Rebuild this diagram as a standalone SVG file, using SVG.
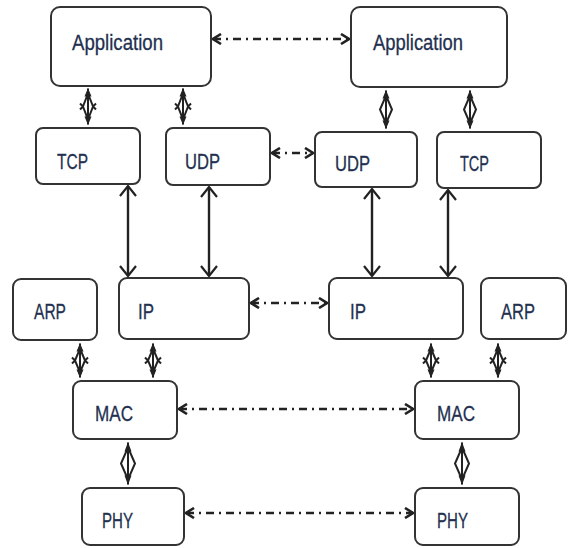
<svg xmlns="http://www.w3.org/2000/svg" width="574" height="548" viewBox="0 0 574 548">
<defs>
<style>
.box{fill:#fff;stroke:#333;stroke-width:2}
.lbl{font-family:"Liberation Sans",Arial,sans-serif;font-size:22px;fill:#23304f;stroke:#23304f;stroke-width:0.3}
.dd{fill:none;stroke:#222;stroke-width:2.5;stroke-dasharray:8 5 2 5}
.va{fill:none;stroke:#222;stroke-width:2.4}
.dm{fill:none;stroke:#222;stroke-width:2}
.dh{fill:#222;stroke:none}
</style>
<marker id="ha" viewBox="0 0 10 12" refX="9" refY="6" markerWidth="10" markerHeight="12" markerUnits="userSpaceOnUse" orient="auto-start-reverse">
<path d="M1,1 L9,6 L1,11" fill="none" stroke="#222" stroke-width="2.6"/>
</marker>
<marker id="vv" viewBox="0 0 12 18" refX="11" refY="9" markerWidth="12" markerHeight="18" markerUnits="userSpaceOnUse" orient="auto-start-reverse">
<path d="M1,1 L11,9 L1,17" fill="none" stroke="#222" stroke-width="2.2"/>
</marker>
</defs>

<g id="connectors">
<path class="dd" d="M213,39 H349" marker-start="url(#ha)" marker-end="url(#ha)"/>
<path class="dd" d="M272,153 H313" marker-start="url(#ha)" marker-end="url(#ha)"/>
<path class="dd" d="M251,303 H327" marker-start="url(#ha)" marker-end="url(#ha)"/>
<path class="dd" d="M179,409 H413" marker-start="url(#ha)" marker-end="url(#ha)"/>
<path class="dd" d="M186,513 H413" marker-start="url(#ha)" marker-end="url(#ha)"/>

<path class="va" d="M128,186 V276" marker-start="url(#vv)" marker-end="url(#vv)"/>
<path class="va" d="M209,187 V276" marker-start="url(#vv)" marker-end="url(#vv)"/>
<path class="va" d="M372,189 V276" marker-start="url(#vv)" marker-end="url(#vv)"/>
<path class="va" d="M448,190 V276" marker-start="url(#vv)" marker-end="url(#vv)"/>

<g id="dia-short">
<g transform="translate(88,106.5)"><path class="dm" d="M0,-18 V18 M0,-13 L5,0 L0,13 L-5,0 Z M-5,0 L-8,-3 M-5,0 L-8,3 M5,0 L8,-3 M5,0 L8,3"/><path class="dh" d="M0,-18.5 L-3.5,-10 L3.5,-10 Z M0,18.5 L-3.5,10 L3.5,10 Z"/></g>
<g transform="translate(183,106.5)"><path class="dm" d="M0,-18 V18 M0,-13 L5,0 L0,13 L-5,0 Z M-5,0 L-8,-3 M-5,0 L-8,3 M5,0 L8,-3 M5,0 L8,3"/><path class="dh" d="M0,-18.5 L-3.5,-10 L3.5,-10 Z M0,18.5 L-3.5,10 L3.5,10 Z"/></g>
<g transform="translate(386,109.5)"><path class="dm" d="M0,-19 V19 M0,-14 L6,0 L0,14 L-6,0 Z"/><path class="dh" d="M0,-19.5 L-3.5,-11 L3.5,-11 Z M0,19.5 L-3.5,11 L3.5,11 Z"/></g>
<g transform="translate(470,109.5)"><path class="dm" d="M0,-19 V19 M0,-14 L6,0 L0,14 L-6,0 Z"/><path class="dh" d="M0,-19.5 L-3.5,-11 L3.5,-11 Z M0,19.5 L-3.5,11 L3.5,11 Z"/></g>
<g transform="translate(80,360.5)"><path class="dm" d="M0,-17 V17 M0,-12 L5,0 L0,12 L-5,0 Z M-5,0 L-8,-3 M-5,0 L-8,3 M5,0 L8,-3 M5,0 L8,3"/><path class="dh" d="M0,-17.5 L-3.5,-9 L3.5,-9 Z M0,17.5 L-3.5,9 L3.5,9 Z"/></g>
<g transform="translate(153,360.5)"><path class="dm" d="M0,-17 V17 M0,-12 L5,0 L0,12 L-5,0 Z M-5,0 L-8,-3 M-5,0 L-8,3 M5,0 L8,-3 M5,0 L8,3"/><path class="dh" d="M0,-17.5 L-3.5,-9 L3.5,-9 Z M0,17.5 L-3.5,9 L3.5,9 Z"/></g>
<g transform="translate(431,360.5)"><path class="dm" d="M0,-17 V17 M0,-12 L5,0 L0,12 L-5,0 Z M-5,0 L-8,-3 M-5,0 L-8,3 M5,0 L8,-3 M5,0 L8,3"/><path class="dh" d="M0,-17.5 L-3.5,-9 L3.5,-9 Z M0,17.5 L-3.5,9 L3.5,9 Z"/></g>
<g transform="translate(498,360.5)"><path class="dm" d="M0,-17 V17 M0,-12 L5,0 L0,12 L-5,0 Z M-5,0 L-8,-3 M-5,0 L-8,3 M5,0 L8,-3 M5,0 L8,3"/><path class="dh" d="M0,-17.5 L-3.5,-9 L3.5,-9 Z M0,17.5 L-3.5,9 L3.5,9 Z"/></g>
</g>
<g id="dia-long">
<g transform="translate(128,463.5)"><path class="dm" d="M0,-21 V21 M0,-16 L7,0 L0,16 L-7,0 Z"/><path class="dh" d="M0,-21.5 L-3.5,-12 L3.5,-12 Z M0,21.5 L-3.5,12 L3.5,12 Z"/></g>
<g transform="translate(462,463.5)"><path class="dm" d="M0,-21 V21 M0,-16 L7,0 L0,16 L-7,0 Z"/><path class="dh" d="M0,-21.5 L-3.5,-12 L3.5,-12 Z M0,21.5 L-3.5,12 L3.5,12 Z"/></g>
</g>
</g>

<g id="app-left"><rect class="box" x="51" y="7" width="160" height="79" rx="9"/><text class="lbl" x="72" y="50" textLength="91" lengthAdjust="spacingAndGlyphs">Application</text></g>
<g id="app-right"><rect class="box" x="351" y="7" width="156" height="80" rx="9"/><text class="lbl" x="373" y="50" textLength="90" lengthAdjust="spacingAndGlyphs">Application</text></g>
<g id="tcp-left"><rect class="box" x="36" y="128" width="104" height="56" rx="7"/><text class="lbl" x="57" y="169" textLength="31" lengthAdjust="spacingAndGlyphs">TCP</text></g>
<g id="udp-left"><rect class="box" x="166" y="128" width="104" height="57" rx="7"/><text class="lbl" x="185" y="169" textLength="35" lengthAdjust="spacingAndGlyphs">UDP</text></g>
<g id="udp-right"><rect class="box" x="315" y="132" width="102" height="55" rx="7"/><text class="lbl" x="335" y="171" textLength="35" lengthAdjust="spacingAndGlyphs">UDP</text></g>
<g id="tcp-right"><rect class="box" x="437" y="132" width="104" height="56" rx="7"/><text class="lbl" x="460" y="171" textLength="29" lengthAdjust="spacingAndGlyphs">TCP</text></g>
<g id="arp-left"><rect class="box" x="13" y="279" width="84" height="61" rx="8"/><text class="lbl" x="34" y="319" textLength="32" lengthAdjust="spacingAndGlyphs">ARP</text></g>
<g id="ip-left"><rect class="box" x="119" y="278" width="130" height="61" rx="8"/><text class="lbl" x="138" y="319" textLength="16" lengthAdjust="spacingAndGlyphs">IP</text></g>
<g id="ip-right"><rect class="box" x="329" y="278" width="134" height="61" rx="8"/><text class="lbl" x="350" y="319" textLength="16" lengthAdjust="spacingAndGlyphs">IP</text></g>
<g id="arp-right"><rect class="box" x="481" y="278" width="85" height="61" rx="8"/><text class="lbl" x="501" y="319" textLength="34" lengthAdjust="spacingAndGlyphs">ARP</text></g>
<g id="mac-left"><rect class="box" x="73" y="381" width="104" height="58" rx="8"/><text class="lbl" x="95" y="421" textLength="38" lengthAdjust="spacingAndGlyphs">MAC</text></g>
<g id="mac-right"><rect class="box" x="415" y="381" width="104" height="58" rx="8"/><text class="lbl" x="437" y="421" textLength="38" lengthAdjust="spacingAndGlyphs">MAC</text></g>
<g id="phy-left"><rect class="box" x="82" y="488" width="102" height="57" rx="8"/><text class="lbl" x="102" y="528" textLength="31" lengthAdjust="spacingAndGlyphs">PHY</text></g>
<g id="phy-right"><rect class="box" x="415" y="488" width="104" height="57" rx="8"/><text class="lbl" x="437" y="528" textLength="31" lengthAdjust="spacingAndGlyphs">PHY</text></g>
</svg>
